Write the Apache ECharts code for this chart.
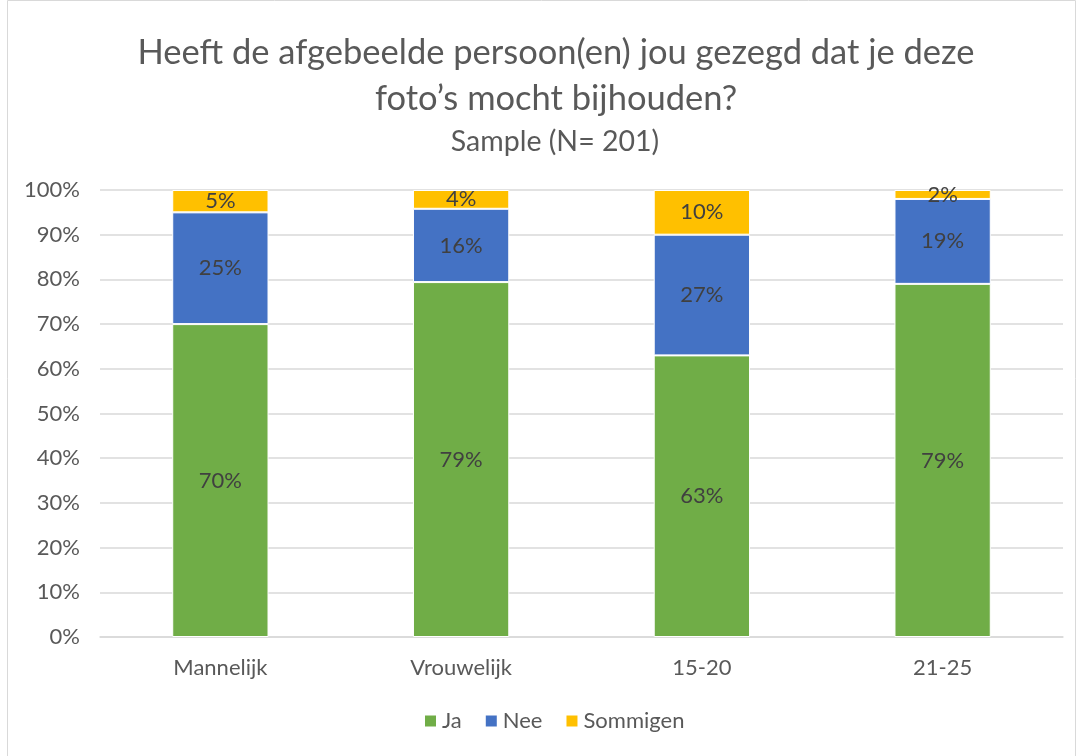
<!DOCTYPE html>
<html><head><meta charset="utf-8">
<script src="https://cdn.jsdelivr.net/npm/echarts@6/dist/echarts.min.js"></script>
<style>html,body{margin:0;padding:0;background:#fff}#c{width:1083px;height:756px}</style>
</head><body><div id="c"></div>
<script>
const categories = ['Mannelijk', 'Vrouwelijk', '15-20', '21-25'];
const ja = [70, 79.4, 63, 79];
const nee = [25, 16.4, 27, 19];
const sommigen = [5, 4.2, 10, 2];
const yTicks = [0, 10, 20, 30, 40, 50, 60, 70, 80, 90, 100];

const FONT = 'Lato, "Open Sans", sans-serif';
const chart = echarts.init(document.getElementById('c'));
function ser(name, data, color) {
  return {
    name, type: 'bar', stack: 't', data, barWidth: '40%',
    itemStyle: { color, borderColor: '#fff', borderWidth: 1 },
    label: { show: true, position: 'inside', color: '#404040', fontFamily: FONT, fontSize: 22,
      formatter: p => Math.round(p.value) + '%' }
  };
}
chart.setOption({
  animation: false,
  textStyle: { fontFamily: FONT },
  graphic: [{ type: 'rect', shape: { x: 7.5, y: 0.5, width: 1068, height: 760 }, style: { fill: 'none', stroke: '#D9D9D9', lineWidth: 1 } }],
  title: [
    { text: 'Heeft de afgebeelde persoon(en) jou gezegd dat je deze\nfoto’s mocht bijhouden?', left: 551, textAlign: 'center', top: 25,
      textStyle: { fontFamily: FONT, fontSize: 34.5, fontWeight: 'normal', color: '#595959', lineHeight: 46 } },
    { text: 'Sample (N= 201)', left: 550, textAlign: 'center', top: 122,
      textStyle: { fontFamily: FONT, fontSize: 28.5, fontWeight: 'normal', color: '#595959' } }
  ],
  legend: {
    bottom: 19, left: 418, itemWidth: 13, itemHeight: 13, itemGap: 22, icon: 'rect',
    textStyle: { fontFamily: FONT, fontSize: 22, color: '#595959' },
    data: ['Ja', 'Nee', 'Sommigen']
  },
  grid: { left: 100, right: 20, top: 190, bottom: 119 },
  xAxis: {
    type: 'category', data: categories,
    axisLine: { lineStyle: { color: '#D9D9D9', width: 1.5 } }, axisTick: { show: false },
    axisLabel: { fontFamily: FONT, fontSize: 22, color: '#595959', margin: 20 }
  },
  yAxis: {
    type: 'value', min: 0, max: 100, interval: 10,
    axisLine: { show: false }, axisTick: { show: false },
    splitLine: { lineStyle: { color: '#D9D9D9', width: 1.5 } },
    axisLabel: { fontFamily: FONT, fontSize: 22, color: '#595959', margin: 20,
      formatter: v => yTicks.includes(v) ? v + '%' : '' }
  },
  series: [ser('Ja', ja, '#70AD47'), ser('Nee', nee, '#4472C4'), ser('Sommigen', sommigen, '#FFC000')]
});
</script></body></html>
